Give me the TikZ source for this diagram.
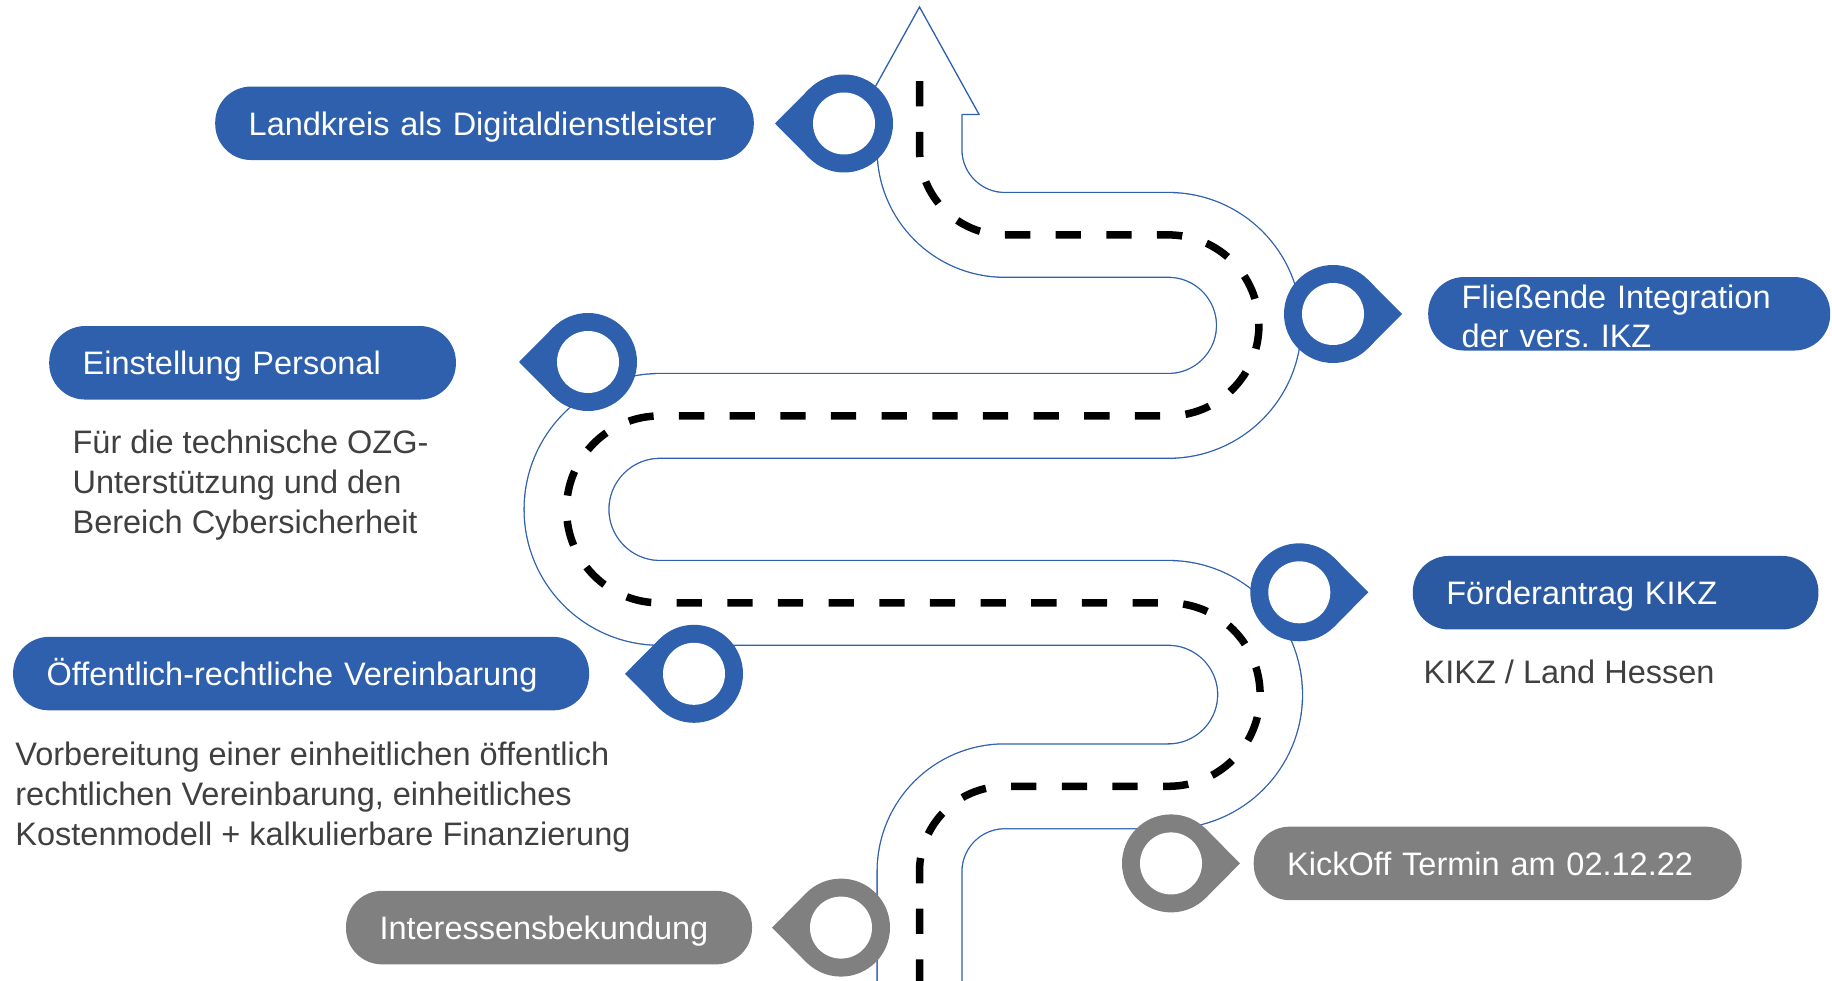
\documentclass[tikz,border=0pt]{standalone}
\usepackage{fontspec}
\setmainfont{Liberation Sans}
\usetikzlibrary{calc}
\frenchspacing
\definecolor{roadblue}{HTML}{2F60AE}
\definecolor{boxblue}{HTML}{2F60AE}
\definecolor{boxblueb}{HTML}{2B5AA3}
\definecolor{pillgrey}{HTML}{808080}
\definecolor{desccol}{HTML}{404040}
\tikzset{
  pill/.style={rounded corners=36pt, inner xsep=33.5pt, inner ysep=0pt,
    minimum height=73.5pt, anchor=west, text=white, align=left,
    font=\fontsize{32.5pt}{38.5pt}\selectfont\frenchspacing, text height=27pt, text depth=3pt},
  bluepill/.style={pill, fill=boxblue},
  greypill/.style={pill, fill=pillgrey},
  desctext/.style={anchor=north west, align=left, text=desccol, inner sep=0pt,
    font=\fontsize{32.5pt}{39.7pt}\selectfont\frenchspacing},
  roadline/.style={draw=roadblue, line width=1.3pt, double=white, double distance=83.5pt},
  centerdash/.style={draw=black, line width=7.5pt, dash pattern=on 25.3pt off 25.36pt},
}
% pin: #1 name, #2 centre, #3 direction angle, #4 colour
\newcommand\drawpin[4]{%
  \coordinate (#1) at #2;
  \fill[#4] ($(#1)+(#3:69)$) -- ($(#1)+(#3+44.8:49)$) -- (#1) -- ($(#1)+(#3-44.8:49)$) -- cycle;
  \fill[#4] (#1) circle (49);
  \fill[white] (#1) circle (31);
}
\begin{document}
\begin{tikzpicture}[x=1pt,y=-1pt]
\useasboundingbox (0,0) rectangle (1832,981);
\clip (0,0) rectangle (1832,981);
\fill[white] (0,0) rectangle (1832,981);
% road
\draw[roadline] (919.5,984.6) -- (919.5,871.6)
  arc[start angle=180, end angle=270, radius=85.3] -- (1168.4,786.3)
  arc[start angle=90, end angle=-90, radius=91.7] -- (660,602.9)
  arc[start angle=90, end angle=270, radius=93.5] -- (1168.4,415.9)
  arc[start angle=90, end angle=-90, radius=90.5] -- (1004.8,234.9)
  arc[start angle=90, end angle=180, radius=85.3] -- (919.5,110);
% arrow head
\draw[roadblue, line width=1.3pt, fill=white, line join=miter]
  (877.1,114.5) -- (859.9,114.5) -- (919.5,7) -- (979.1,114.5) -- (961.9,114.5);
% centre dashes
\draw[centerdash] (919.5,984.6) -- (919.5,871.6)
  arc[start angle=180, end angle=270, radius=85.3] -- (1168.4,786.3)
  arc[start angle=90, end angle=-90, radius=91.7] -- (660,602.9)
  arc[start angle=90, end angle=270, radius=93.5] -- (1168.4,415.9)
  arc[start angle=90, end angle=-90, radius=90.5] -- (1004.8,234.9)
  arc[start angle=90, end angle=180, radius=85.3] -- (919.5,81);
% pins
\drawpin{pinA}{(844,123.5)}{180}{boxblue}
\drawpin{pinB}{(1333,314)}{0}{boxblue}
\drawpin{pinC}{(588,362)}{180}{boxblue}
\drawpin{pinD}{(1299.3,592.3)}{0}{boxblue}
\drawpin{pinE}{(694,673.8)}{180}{boxblue}
\drawpin{pinF}{(1171,863.4)}{0}{pillgrey}
\drawpin{pinG}{(841,927.6)}{180}{pillgrey}
% labels
\node[bluepill, text width=471.6pt] (landkreis) at (215,123.3) {Landkreis als Digitaldienstleister};
\node[bluepill, text width=335pt, text height=31.95pt, text depth=41.55pt] (integration) at (1428,313.8) {Fließende Integration\\der vers. IKZ};
\node[bluepill, text width=339.7pt] (personal) at (49,362.8) {Einstellung Personal};
\node[desctext] (personaltxt) at (72.4,430) {Für die technische OZG-\\Unterstützung und den\\Bereich Cybersicherheit};
\node[pill, fill=boxblueb, text width=338.6pt] (foerder) at (1412.6,592.7) {Förderantrag KIKZ};
\node[desctext] (foerdertxt) at (1423.5,660) {KIKZ / Land Hessen};
\node[bluepill, text width=509pt] (vereinbarung) at (12.9,673.6) {Öffentlich-rechtliche Vereinbarung};
\node[desctext] (vereinbarungtxt) at (15.2,742) {Vorbereitung einer einheitlichen öffentlich\\rechtlichen Vereinbarung, einheitliches\\Kostenmodell + kalkulierbare Finanzierung};
\node[greypill, text width=421pt] (kickoff) at (1253.5,863.4) {KickOff Termin am 02.12.22};
\node[greypill, text width=339pt] (interesse) at (345.8,927.6) {Interessensbekundung};
\end{tikzpicture}
\end{document}
